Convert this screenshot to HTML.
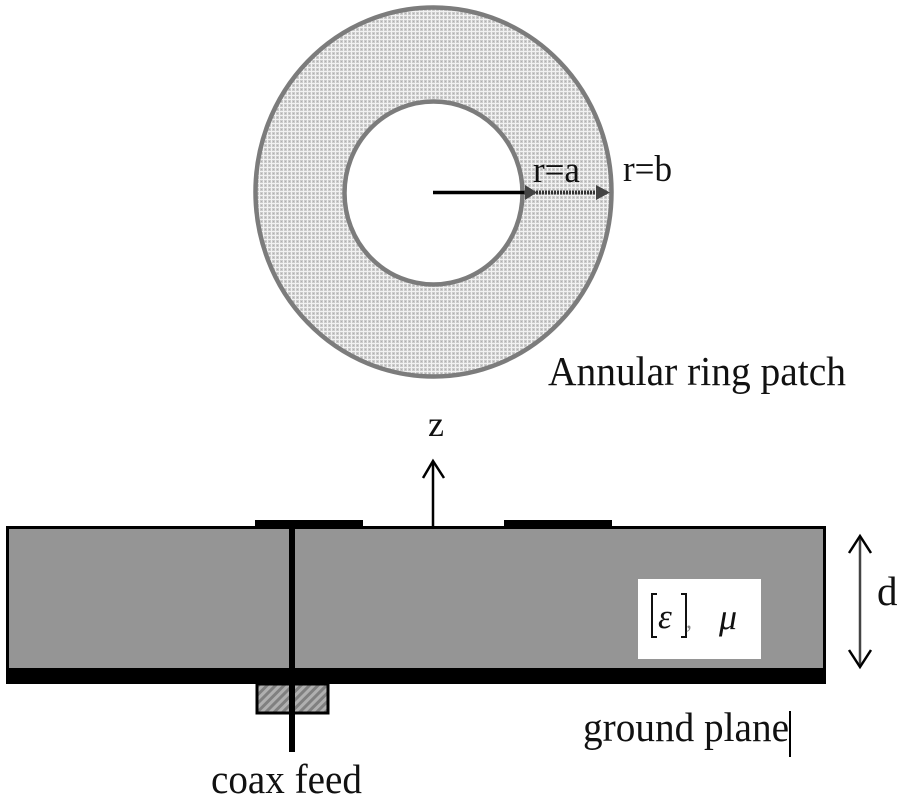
<!DOCTYPE html>
<html><head><meta charset="utf-8">
<style>
html,body{margin:0;padding:0;background:#fff;width:900px;height:800px;overflow:hidden}
svg{display:block}
text{font-family:"Liberation Serif",serif;fill:#111}
</style></head>
<body>
<svg width="900" height="800" viewBox="0 0 900 800" xmlns="http://www.w3.org/2000/svg">
<defs>
<pattern id="dots" width="4" height="4" patternUnits="userSpaceOnUse">
<rect width="4" height="4" fill="#f2f2f2"/>
<rect width="3" height="3" fill="#cccccc"/>
<rect x="1" y="1" width="1" height="1" fill="#b0b0b0"/>
</pattern>
<pattern id="hatch" width="6" height="6" patternUnits="userSpaceOnUse" patternTransform="rotate(45)">
<rect width="6" height="6" fill="#b0b0b0"/>
<rect width="3" height="6" fill="#808080"/>
</pattern>
</defs>

<!-- annular ring -->
<ellipse cx="433.500" cy="192" rx="178" ry="184.500" fill="url(#dots)" stroke="#7c7c7c" stroke-width="4.500"/>
<ellipse cx="433.500" cy="193" rx="89" ry="91.500" fill="#fff" stroke="#7c7c7c" stroke-width="4.500"/>

<!-- radii -->
<line x1="433" y1="192.500" x2="524" y2="192.500" stroke="#000" stroke-width="3.500"/>
<line x1="524" y1="192.500" x2="608" y2="192.500" stroke="#333" stroke-width="4" stroke-dasharray="2 1"/>
<polygon points="525,185 525,200 537,192.500" fill="#444"/>
<polygon points="596,185 596,200 610,192.500" fill="#444"/>

<text x="533" y="182" font-size="37" textLength="47" lengthAdjust="spacingAndGlyphs">r=a</text>
<text x="623" y="181" font-size="37" textLength="49" lengthAdjust="spacingAndGlyphs">r=b</text>
<text x="548" y="385" font-size="41" textLength="298" lengthAdjust="spacingAndGlyphs">Annular ring patch</text>

<!-- z axis -->
<text x="428" y="436" font-size="36">z</text>
<line x1="433" y1="462" x2="433" y2="527" stroke="#000" stroke-width="2.500"/>
<polyline points="423,478 433,461 444,478" fill="none" stroke="#000" stroke-width="2.500"/>

<!-- substrate -->
<rect x="7.500" y="527.500" width="817" height="146" fill="#959595" stroke="#000" stroke-width="3"/>
<rect x="255" y="520" width="108" height="8" fill="#000"/>
<rect x="504" y="520" width="108" height="8" fill="#000"/>
<rect x="6" y="668" width="820" height="16" fill="#000"/>

<!-- connector -->
<rect x="257" y="684" width="71" height="29" fill="url(#hatch)" stroke="#000" stroke-width="3"/>
<rect x="289" y="527" width="6" height="225" fill="#000"/>

<!-- material box -->
<rect x="638" y="579" width="123" height="80" fill="#fff"/>
<polyline points="657,594 652,594 652,637 657,637" fill="none" stroke="#111" stroke-width="2"/>
<polyline points="681,594 686,594 686,637 681,637" fill="none" stroke="#111" stroke-width="2"/>
<text x="658" y="628" font-size="35" font-style="italic">ε</text>
<text x="686" y="628" font-size="24" style="fill:#888">,</text>
<text x="719" y="629" font-size="36" font-style="italic">μ</text>

<!-- d arrow -->
<line x1="860" y1="537" x2="860" y2="666" stroke="#444" stroke-width="2.500"/>
<polyline points="849,553 860,536 871,553" fill="none" stroke="#000" stroke-width="2.500"/>
<polyline points="849,650 860,667 871,650" fill="none" stroke="#000" stroke-width="2.500"/>
<text x="877" y="605" font-size="41">d</text>

<!-- labels -->
<text x="583" y="741" font-size="41" textLength="206" lengthAdjust="spacingAndGlyphs">ground plane</text>
<line x1="790" y1="711" x2="790" y2="757" stroke="#000" stroke-width="2"/>
<text x="211" y="793" font-size="41" textLength="151" lengthAdjust="spacingAndGlyphs">coax feed</text>
</svg>
</body></html>
